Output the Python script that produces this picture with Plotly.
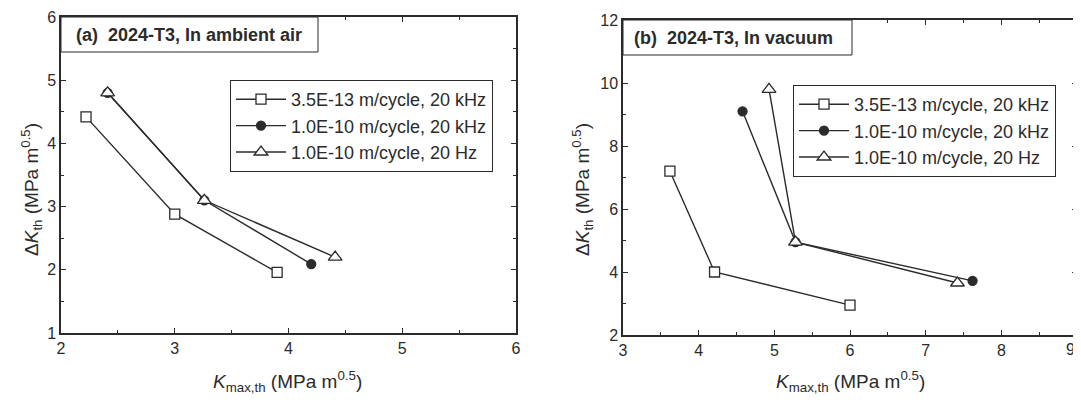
import plotly.graph_objects as go

PAGE_W, PAGE_H = 1081, 403
OFF = 8  # default page body margin of the html page
W, H = PAGE_W - OFF, PAGE_H - 2 * OFF  # fits the window without scrolling

# ---------------- data ----------------
series_names = ["3.5E-13 m/cycle, 20 kHz", "1.0E-10 m/cycle, 20 kHz", "1.0E-10 m/cycle, 20 Hz"]

# (a) ambient air
a_sq_x = [2.22, 3.0, 3.9]
a_sq_y = [4.42, 2.88, 1.96]
a_ci_x = [2.41, 3.26, 4.2]
a_ci_y = [4.8, 3.1, 2.09]
a_tr_x = [2.41, 3.26, 4.41]
a_tr_y = [4.8, 3.1, 2.2]

# (b) vacuum
b_sq_x = [3.62, 4.21, 6.0]
b_sq_y = [7.2, 4.0, 2.95]
b_ci_x = [4.58, 5.28, 7.62]
b_ci_y = [9.1, 4.95, 3.72]
b_tr_x = [4.93, 5.28, 7.42]
b_tr_y = [9.8, 4.95, 3.65]

a_xticks = [2, 3, 4, 5, 6]
a_yticks = [1, 2, 3, 4, 5, 6]
b_xticks = [3, 4, 5, 6, 7, 8, 9]
b_yticks = [2, 4, 6, 8, 10, 12]

# ---------------- style ----------------
INK = "#2b2b2b"
FONT = "Liberation Sans, Arial, sans-serif"

def px(x):
    return (x - OFF) / W

def py(y):
    return 1 - (y - OFF) / H

fig = go.Figure()

def add_series(xs, ys, name, symbol, fill, size, xa, ya, legend):
    fig.add_trace(go.Scatter(
        x=xs, y=ys, name=name, mode="lines+markers",
        xaxis=xa, yaxis=ya, legend=legend,
        line=dict(color=INK, width=1.4),
        marker=dict(symbol=symbol, size=size, color=fill,
                    line=dict(color=INK, width=1.3)),
    ))

add_series(a_sq_x, a_sq_y, series_names[0], "square", "white", 10, "x", "y", "legend")
add_series(a_ci_x, a_ci_y, series_names[1], "circle", INK, 9, "x", "y", "legend")
add_series(a_tr_x, a_tr_y, series_names[2], "triangle-up", "white", 12, "x", "y", "legend")

add_series(b_sq_x, b_sq_y, series_names[0], "square", "white", 10, "x2", "y2", "legend2")
add_series(b_ci_x, b_ci_y, series_names[1], "circle", INK, 9, "x2", "y2", "legend2")
add_series(b_tr_x, b_tr_y, series_names[2], "triangle-up", "white", 12, "x2", "y2", "legend2")

def axis_style(rng, ticks, labels, minor_dtick, domain, anchor):
    return dict(
        range=rng, domain=domain, anchor=anchor, automargin=False,
        tickvals=ticks, ticktext=labels,
        ticklabeloverflow="allow",
        showgrid=False, zeroline=False,
        showline=True, linecolor=INK, linewidth=1.5, mirror="ticks",
        ticks="inside", ticklen=5, tickwidth=1.2, tickcolor=INK,
        minor=dict(ticks="inside", ticklen=3, tickwidth=1.0, tickcolor=INK,
                   dtick=minor_dtick, tick0=rng[0], showgrid=False),
        tickfont=dict(family=FONT, size=16, color=INK),
    )

# the last label of panel (b) sits at the very edge of the page; draw it as an annotation
b_xlabels = [str(t) for t in b_xticks[:-1]] + [""]
B_DOMAIN = [px(623), px(1077)]

fig.update_layout(
    template="none",
    width=W, height=H,
    margin=dict(l=0, r=0, t=0, b=0, autoexpand=False),
    paper_bgcolor="white", plot_bgcolor="white",
    font=dict(family=FONT, color=INK),
    xaxis=axis_style([2, 6], a_xticks, [str(t) for t in a_xticks], 0.5, [px(61), px(516)], "y"),
    yaxis=axis_style([1, 6], a_yticks, [str(t) for t in a_yticks], 0.5, [py(333), py(17)], "x"),
    xaxis2=axis_style([3, 9], b_xticks, b_xlabels, 0.5, B_DOMAIN, "y2"),
    yaxis2=axis_style([2, 12], b_yticks, [str(t) for t in b_yticks], 1, [py(335), py(20)], "x2"),
    legend=dict(x=px(230), y=py(80), xanchor="left", yanchor="top",
                bgcolor="white", bordercolor=INK, borderwidth=1,
                font=dict(family=FONT, size=18, color=INK), itemwidth=50,
                tracegroupgap=0),
    legend2=dict(x=px(793), y=py(85), xanchor="left", yanchor="top",
                 bgcolor="white", bordercolor=INK, borderwidth=1,
                 font=dict(family=FONT, size=18, color=INK), itemwidth=50,
                 tracegroupgap=0),
    showlegend=True,
)

# panel title boxes
shapes = [
    dict(type="rect", xref="paper", yref="paper",
         x0=px(61), x1=px(318), y0=py(52), y1=py(17),
         line=dict(color=INK, width=1), fillcolor="white", layer="above"),
    dict(type="rect", xref="paper", yref="paper",
         x0=px(623), x1=px(852), y0=py(55), y1=py(20),
         line=dict(color=INK, width=1), fillcolor="white", layer="above"),
]
fig.update_layout(shapes=shapes)

ann = []
ann.append(dict(text="<b>(a)\u00a0\u00a02024-T3, In ambient air</b>", x=px(74), y=py(35),
                xref="paper", yref="paper", xanchor="left", yanchor="middle",
                showarrow=False, font=dict(family=FONT, size=18, color=INK)))
ann.append(dict(text="<b>(b)\u00a0\u00a02024-T3, In vacuum</b>", x=px(632), y=py(38),
                xref="paper", yref="paper", xanchor="left", yanchor="middle",
                showarrow=False, font=dict(family=FONT, size=18, color=INK)))

# last tick label of panel (b): right-aligned at the end of the axis domain (x = 9)
ann.append(dict(text=str(b_xticks[-1]), x=B_DOMAIN[1], y=py(349), xref="paper", yref="paper",
                xanchor="right", yanchor="middle", showarrow=False,
                font=dict(family=FONT, size=16, color=INK)))

xtitle = "<i>K</i><sub>max,th</sub> (MPa m<sup>0.5</sup>)"
ytitle = "\u0394<i>K</i><sub>th</sub> (MPa m<sup>0.5</sup>)"
for cx in (288, 850):
    ann.append(dict(text=xtitle, x=px(cx), y=py(381), xref="paper", yref="paper",
                    xanchor="center", yanchor="middle", showarrow=False,
                    font=dict(family=FONT, size=19, color=INK)))
for cx in (31, 582):
    ann.append(dict(text=ytitle, x=px(cx), y=py(190), xref="paper", yref="paper",
                    xanchor="center", yanchor="middle", showarrow=False, textangle=-90,
                    font=dict(family=FONT, size=19, color=INK)))
fig.update_layout(annotations=ann)

fig.write_html("out.html")
